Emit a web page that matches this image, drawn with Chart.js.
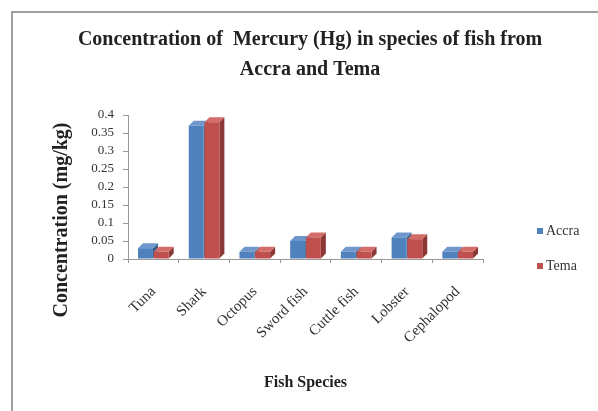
<!DOCTYPE html>
<html>
<head>
<meta charset="utf-8">
<script src="https://cdn.jsdelivr.net/npm/chart.js@4.4.0/dist/chart.umd.min.js"></script>
<style>
    body { margin: 0; background: #fff; }
    #wrap { position: relative; width: 598px; height: 411px; overflow: hidden; background: #fff; }
    #frame { position: absolute; left: 11px; top: 11px; width: 620px; height: 440px;
             border-left: 2px solid #a0a0a0; border-top: 2px solid #a0a0a0; }
    canvas { position: absolute; left: 0; top: 0; }
    #legend { position: absolute; left: 537px; top: 222px; font-family: "Liberation Serif", serif;
              font-size: 14px; color: #333; }
    #legend div { height: 35px; line-height: 18px; white-space: nowrap; }
    #legend span { display: inline-block; width: 6px; height: 6px; margin-right: 3px; vertical-align: 1px; }
</style>
</head>
<body>
<div id="wrap">
    <div id="frame"></div>
    <canvas id="chart" width="598" height="411"></canvas>
    <div id="legend"></div>
</div>
<script>
const species = ["Tuna", "Shark", "Octopus", "Sword fish", "Cuttle fish", "Lobster", "Cephalopod"];
const accra = [0.03, 0.37, 0.02, 0.05, 0.02, 0.06, 0.02];
const tema = [0.02, 0.38, 0.02, 0.06, 0.02, 0.055, 0.02];
const seriesNames = ["Accra", "Tema"];
const seriesColors = ["#4f81bd", "#c0504d"];
const sideColors = ["#385d8a", "#8c3836"];
const topColors = ["#6f97cc", "#d46c69"];

const serif = "'Liberation Serif', 'Times New Roman', serif";

// fake depth for the excel style 3d columns
const depthPlugin = {
    id: "depth",
    beforeDatasetsDraw(chart){
        const ctx = chart.ctx;
        const d = 5;
        chart.data.datasets.forEach((ds, i) => {
            const meta = chart.getDatasetMeta(i);
            meta.data.forEach(bar => {
                const left = bar.x - bar.width / 2;
                const right = bar.x + bar.width / 2;
                ctx.fillStyle = sideColors[i];
                ctx.beginPath();
                ctx.moveTo(right, bar.y);
                ctx.lineTo(right + d, bar.y - d);
                ctx.lineTo(right + d, bar.base - d);
                ctx.lineTo(right, bar.base);
                ctx.closePath();
                ctx.fill();
                ctx.fillStyle = topColors[i];
                ctx.beginPath();
                ctx.moveTo(left, bar.y);
                ctx.lineTo(left + d, bar.y - d);
                ctx.lineTo(right + d, bar.y - d);
                ctx.lineTo(right, bar.y);
                ctx.closePath();
                ctx.fill();
            });
        });
    }
};

const yTitlePlugin = {
    id: "yTitle",
    afterDraw(chart){
        const ctx = chart.ctx;
        ctx.save();
        ctx.translate(62, 220);
        ctx.rotate(-Math.PI / 2);
        ctx.font = "bold 20px " + serif;
        ctx.fillStyle = "#222";
        ctx.textAlign = "center";
        ctx.textBaseline = "middle";
        ctx.fillText("Concentration (mg/kg)", 0, 0);
        ctx.restore();
    }
};

const chart = new Chart(document.getElementById("chart"), {
    type: "bar",
    data: {
        labels: species,
        datasets: [
            { label: seriesNames[0], data: accra, backgroundColor: seriesColors[0] },
            { label: seriesNames[1], data: tema, backgroundColor: seriesColors[1] }
        ]
    },
    options: {
        responsive: false,
        animation: false,
        categoryPercentage: 0.62,
        barPercentage: 0.95,
        layout: { padding: { left: 22, right: 0, top: 0, bottom: 0 } },
        plugins: {
            legend: { display: false },
            tooltip: { enabled: false },
            title: {
                display: true,
                text: ["Concentration of  Mercury (Hg) in species of fish from", "Accra and Tema"],
                color: "#222",
                font: { family: serif, size: 20, weight: "bold", lineHeight: 1.5 },
                padding: { top: 25, bottom: 30 }
            }
        },
        scales: {
            x: {
                grid: { display: true, drawOnChartArea: false, tickLength: 4, color: "#999" },
                border: { color: "#999" },
                ticks: {
                    color: "#333", minRotation: 45, maxRotation: 45, padding: 20,
                    font: { family: serif, size: 15 }
                },
                title: {
                    display: true, text: "Fish Species", color: "#222",
                    font: { family: serif, size: 16, weight: "bold" },
                    padding: { top: 0, bottom: 19 }
                },
                afterFit(scale){ scale.height = 152; }
            },
            y: {
                min: 0,
                max: 0.4,
                grid: { display: true, drawOnChartArea: false, tickLength: 5, color: "#999" },
                border: { color: "#999" },
                ticks: {
                    stepSize: 0.05, color: "#333", padding: 9, autoSkip: false,
                    font: { family: serif, size: 13, lineHeight: 1 },
                    callback: v => String(Number(v.toFixed(2)))
                },
                afterFit(scale){ scale.width = 106; }
            },
            y2: {
                position: "right",
                display: true,
                grid: { display: false },
                border: { display: false },
                ticks: { display: false },
                afterFit(scale){ scale.width = 115; }
            }
        }
    },
    plugins: [depthPlugin, yTitlePlugin]
});

const legend = document.getElementById("legend");
seriesNames.forEach((name, i) => {
    legend.innerHTML += `<div><span style="background:${seriesColors[i]}"></span>${name}</div>`;
});
</script>
</body>
</html>
